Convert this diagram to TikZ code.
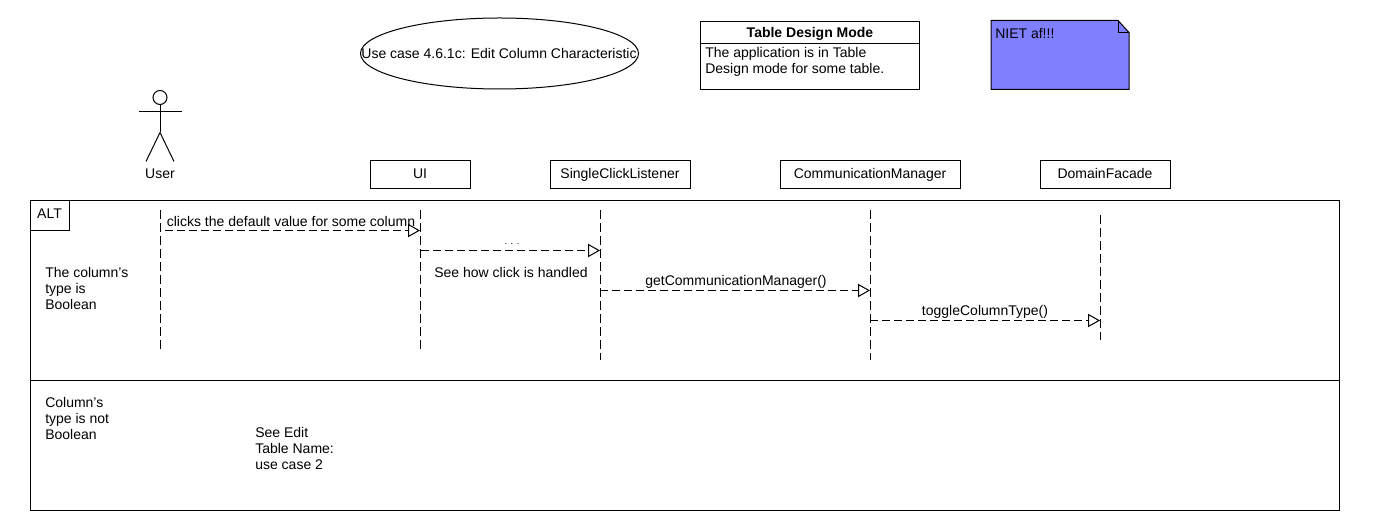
\documentclass[tikz,border=0pt]{standalone}
\usepackage{fontspec}
\setmainfont{Liberation Sans}
\usetikzlibrary{arrows.meta,shapes.geometric}
\definecolor{noteblue}{RGB}{128,128,255}
\newcommand{\tfont}{\fontsize{10.5pt}{11.9pt}\selectfont}
\tikzset{
  x=0.75pt,y=-0.75pt,
  line/.style={draw=black,line width=0.75pt},
  lifebox/.style={line,minimum width=100*0.75pt,minimum height=28*0.75pt,inner sep=0pt,font=\tfont,text height=8pt,text depth=2.5pt},
  lifeline/.style={line,dash pattern=on 6.75pt off 3pt},
  msg/.style={line,dash pattern=on 6pt off 3pt,-{Triangle[open,length=9pt,width=10pt,line width=0.75pt]}},
  txt/.style={font=\tfont,inner sep=0pt,align=left},
}
\begin{document}
\begin{tikzpicture}
\useasboundingbox (0,-0.5) rectangle (1380,529.5);
% use case
\node[line,ellipse,minimum width=278*0.75pt,minimum height=71*0.75pt,inner sep=0pt] (uc) at (499.5,53) {};
\node[txt] (uct) at (499,53.5) {Use case 4.6.1c: Edit Column Characteristic};
% state box
\node[line,minimum width=219*0.75pt,minimum height=68*0.75pt,inner sep=0pt] (tdm) at (809.5,55) {};
\coordinate (tdmL) at (700,43);
\coordinate (tdmR) at (919,43);
\draw[line] (tdmL) -- (tdmR);
\node[txt,font=\tfont\bfseries] (tdmT) at (810,33) {Table Design Mode};
\node[txt,anchor=north west] (tdmB) at (705,47) {The application is in Table\\Design mode for some table.};
% note
\filldraw[line,fill=noteblue] (991,20) -- (1118,20) -- (1129,32) -- (1129,89) -- (991,89) -- cycle;
\draw[line] (1118,20) -- (1118,32) -- (1129,32);
\node[txt,anchor=west] (note) at (995,33) {NIET af!!!};
% actor
\draw[line] (160,97) circle (7);
\draw[line] (160,104) -- (160,132);
\draw[line] (139,111) -- (182,111);
\draw[line] (160,132) -- (146,161);
\draw[line] (160,132) -- (174,161);
\node[txt] (user) at (160,173) {User};
% lifeline heads
\node[lifebox] (ui) at (420,174.5) {UI};
\node[lifebox,minimum width=140*0.75pt] (scl) at (620,174.5) {SingleClickListener};
\node[lifebox,minimum width=180*0.75pt] (cm) at (870,174.5) {CommunicationManager};
\node[lifebox,minimum width=130*0.75pt] (df) at (1105,174.5) {DomainFacade};
% frame
\draw[line] (30,200) rectangle (1339,510);
\draw[line] (30,380) -- (1339,380);
\draw[line] (30,200) rectangle (69,230);
\node[txt] (alt) at (49.5,213) {ALT};
% lifelines
\coordinate (l1a) at (160,210); \coordinate (l1b) at (160,350);
\coordinate (l2a) at (420,210); \coordinate (l2b) at (420,350);
\coordinate (l3a) at (600,210); \coordinate (l3b) at (600,360);
\coordinate (l4a) at (870,210); \coordinate (l4b) at (870,360);
\coordinate (l5a) at (1100,215); \coordinate (l5b) at (1100,340);
\foreach \k in {1,...,5} \draw[lifeline] (l\k a) -- (l\k b);
% messages
\coordinate (m1a) at (165,230); \coordinate (m1b) at (420,230);
\coordinate (m2a) at (421,250); \coordinate (m2b) at (600,250);
\coordinate (m3a) at (600,290); \coordinate (m3b) at (870,290);
\coordinate (m4a) at (870,320); \coordinate (m4b) at (1100,320);
\foreach \k in {1,...,4} \draw[msg] (m\k a) -- (m\k b);
\node[txt] (t1) at (291,221) {clicks the default value for some column};
\node[txt,font=\fontsize{7pt}{8pt}\selectfont] (t2) at (512,244) {. . .};
\node[txt] (t2b) at (511,272) {See how click is handled};
\node[txt] (t3) at (736,281) {getCommunicationManager()};
\node[txt] (t4) at (985,311) {toggleColumnType()};
\node[txt,anchor=north west] (g1) at (45,267) {The column's\\type is\\Boolean};
\node[txt,anchor=north west] (g2) at (45,397) {Column's\\type is not\\Boolean};
\node[txt,anchor=north west] (g3) at (255,427) {See Edit\\Table Name:\\use case 2};
\end{tikzpicture}
\end{document}
